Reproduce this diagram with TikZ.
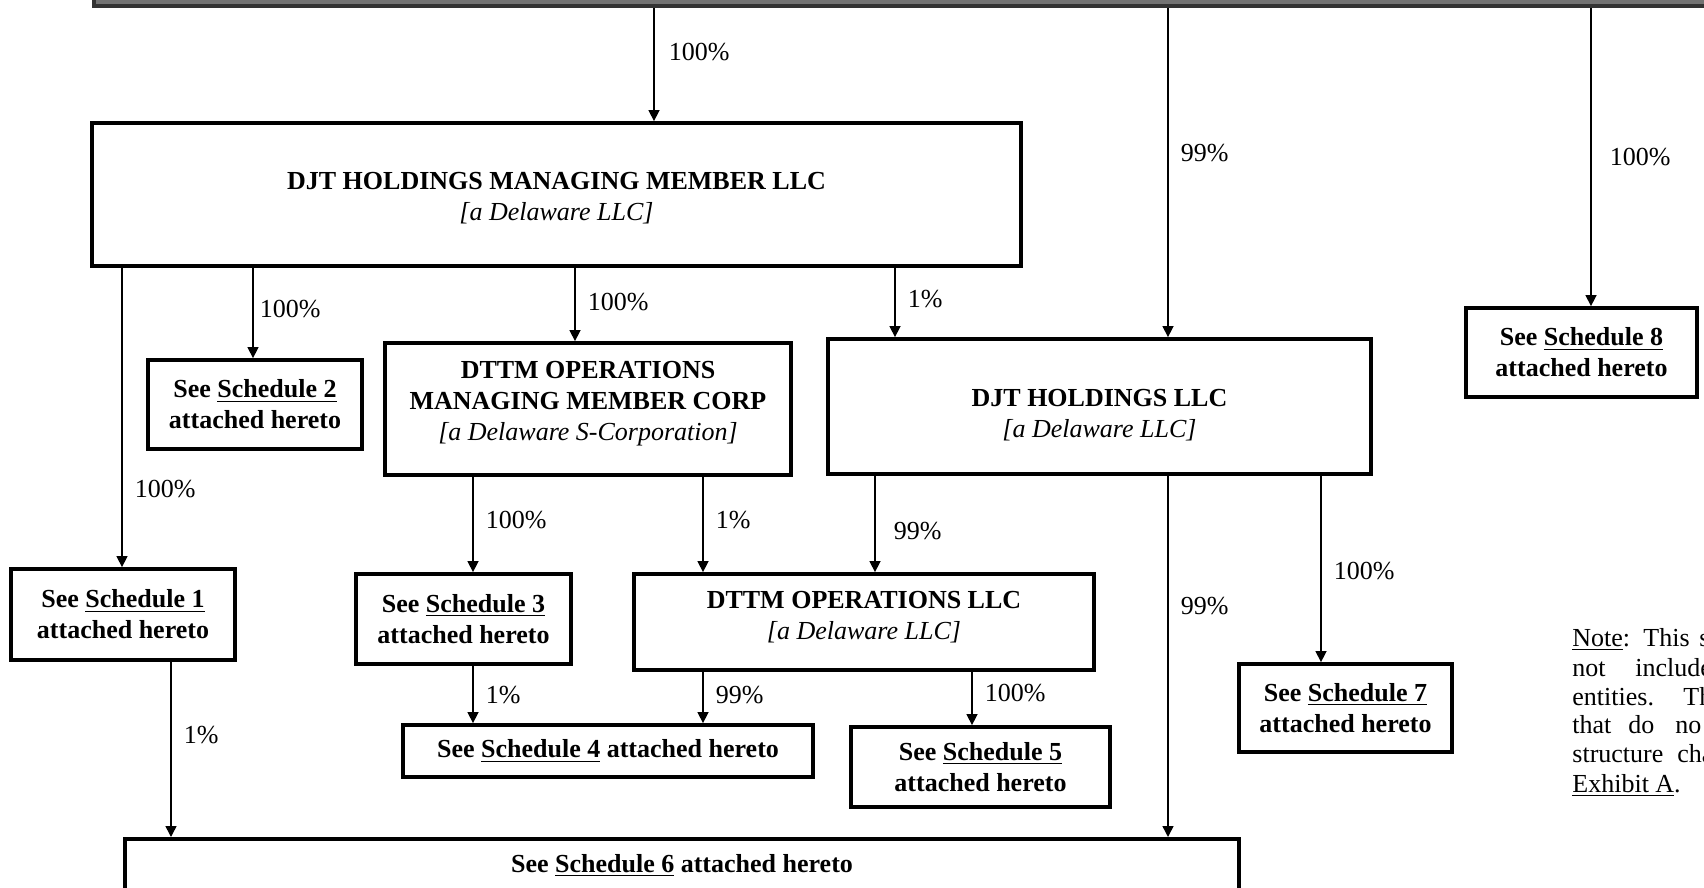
\documentclass[tikz,border=0pt]{standalone}
\usepackage{fontspec}
\setmainfont{Liberation Serif}
\usetikzlibrary{arrows.meta,positioning}

\tikzset{
  entity/.style={draw, line width=1.9pt, align=center, inner sep=0pt,
    font=\fontsize{13}{15.5}\selectfont\bfseries},
  title/.style={align=center, inner sep=0pt,
    font=\fontsize{13}{15.5}\selectfont\bfseries},
  own/.style={-{Triangle[length=5.5pt,width=5.5pt]}, line width=0.75pt},
  pct/.style={anchor=west, inner sep=0pt, xshift=6pt,
    font=\fontsize{13}{15.5}\selectfont},
  note/.style={anchor=base west, inner sep=0pt,
    font=\fontsize{13}{15.5}\selectfont},
}
\newcommand{\llc}[1]{{\normalfont\itshape [a Delaware #1]}}
\newcommand{\sched}[1]{See \underline{Schedule #1}\\attached hereto}

\begin{document}
\begin{tikzpicture}[x=0.5pt,y=-0.5pt]
\useasboundingbox (0,0) rectangle (1704,888);
\clip (0,0) rectangle (1704,888);

% Parent (cut off at top)
\node[entity, draw=black!80, fill=black!55, anchor=south west, minimum width=820pt, minimum height=20pt] (top) at (92,8) {};

% Entities
\node[entity, minimum width=464.5pt, minimum height=71.5pt] (hmm) at (556.5,194.5) {};
\node[title] (hmm-t) at ([yshift=-2pt]hmm.center)
  {DJT HOLDINGS MANAGING MEMBER LLC\\ \llc{LLC}};
\node[entity, minimum width=203pt, minimum height=66pt] (ommc) at (588,409) {};
\node[title] (ommc-t) at ([yshift=2.7pt]ommc.center)
  {DTTM OPERATIONS\\MANAGING MEMBER CORP\\ \llc{S-Corporation}};
\node[entity, minimum width=271.5pt, minimum height=67.5pt] (djt) at (1099.5,406.5) {};
\node[title] (djt-t) at ([yshift=-4.25pt]djt.center)
  {DJT HOLDINGS LLC\\ \llc{LLC}};
\node[entity, minimum width=230pt, minimum height=48pt] (ops) at (864,622) {};
\node[title] (ops-t) at ([yshift=2.5pt]ops.center)
  {DTTM OPERATIONS LLC\\ \llc{LLC}};

% Schedules
\node[entity, minimum width=112pt, minimum height=45.5pt] (sch1) at (123,614.5) {\sched{1}};
\node[entity, minimum width=107pt, minimum height=44.5pt] (sch2) at (255,404.5) {\sched{2}};
\node[entity, minimum width=107.5pt, minimum height=45pt] (sch3) at (463.5,619) {\sched{3}};
\node[entity, minimum width=205pt, minimum height=26pt] (sch4) at (608,751)
  {See \underline{Schedule 4} attached hereto};
\node[entity, minimum width=129.5pt, minimum height=40pt] (sch5) at (980.5,767) {\sched{5}};
\node[entity, minimum width=557pt, minimum height=27pt, anchor=north] (sch6) at (682,837)
  {See \underline{Schedule 6} attached hereto};
\node[entity, minimum width=106.5pt, minimum height=44pt] (sch7) at (1345.5,708) {\sched{7}};
\node[entity, minimum width=115.5pt, minimum height=44.5pt] (sch8) at (1581.5,352.5) {\sched{8}};

% Entry points
\coordinate (i1) at ([xshift=48.75pt]hmm.north);
\coordinate (i2) at ([xshift=34.25pt]djt.north);
\coordinate (i3) at ([xshift=4.75pt]sch8.north);
\coordinate (i4) at ([xshift=-0.5pt]sch1.north);
\coordinate (i5) at ([xshift=-1pt]sch2.north);
\coordinate (i6) at ([xshift=-6.5pt]ommc.north);
\coordinate (i7) at ([xshift=-102.25pt]djt.north);
\coordinate (i8) at ([xshift=4.75pt]sch3.north);
\coordinate (i9) at ([xshift=-80.5pt]ops.north);
\coordinate (i10) at ([xshift=5.5pt]ops.north);
\coordinate (i11) at ([xshift=243pt]sch6.north);
\coordinate (i12) at ([xshift=-12.25pt]sch7.north);
\coordinate (i13) at ([xshift=-255.5pt]sch6.north);
\coordinate (i14) at ([xshift=-67.5pt]sch4.north);
\coordinate (i15) at ([xshift=47.5pt]sch4.north);
\coordinate (i16) at ([xshift=-4.25pt]sch5.north);

% Ownership
\draw[own] (top.south -| i1) -- node[pct, pos=.39, xshift=1pt] {100\%} (i1);
\draw[own] (top.south -| i2) -- node[pct, pos=.44] {99\%} (i2);
\draw[own] (top.south -| i3) -- node[pct, pos=.50, xshift=3pt] {100\%} (i3);
\draw[own] (hmm.south -| i4) -- node[pct, pos=.74] {100\%} (i4);
\draw[own] (hmm.south -| i5) -- node[pct, pos=.46, xshift=-3pt] {100\%} (i5);
\draw[own] (hmm.south -| i6) -- node[pct, pos=.47] {100\%} (i6);
\draw[own] (hmm.south -| i7) -- node[pct, pos=.45] {1\%} (i7);
\draw[own] (ommc.south -| i8) -- node[pct, pos=.45] {100\%} (i8);
\draw[own] (ommc.south -| i9) -- node[pct, pos=.45] {1\%} (i9);
\draw[own] (djt.south -| i10) -- node[pct, pos=.57, xshift=3pt] {99\%} (i10);
\draw[own] (djt.south -| i11) -- node[pct, pos=.36] {99\%} (i11);
\draw[own] (djt.south -| i12) -- node[pct, pos=.51] {100\%} (i12);
\draw[own] (sch1.south -| i13) -- node[pct, pos=.42] {1\%} (i13);
\draw[own] (sch3.south -| i14) -- node[pct, pos=.51] {1\%} (i14);
\draw[own] (ops.south -| i15) -- node[pct, pos=.45] {99\%} (i15);
\draw[own] (ops.south -| i16) -- node[pct, pos=.40] {100\%} (i16);

% Note (cut off at right)
\foreach \x/\y/\w [count=\i] in {1572/646/{\underline{Note}:}, 1643/646/This, 1699/646/s,
    1572/676/not, 1635/676/include,
    1572/705/entities., 1683/705/Th,
    1572/733/that, 1628/733/do, 1675/733/no,
    1572/762/structure, 1677/762/cha,
    1572/792/{\underline{Exhibit A}.}}
  \node[note] (note\i) at (\x,\y) {\w};
\end{tikzpicture}
\end{document}
